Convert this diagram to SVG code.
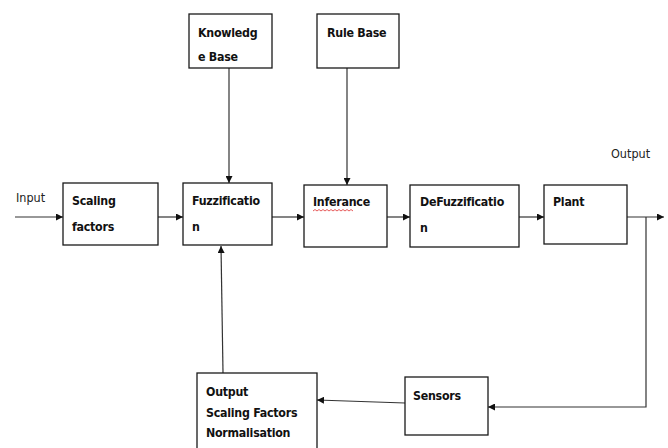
<svg xmlns="http://www.w3.org/2000/svg" width="668" height="448" viewBox="0 0 668 448">
<style>
.box{fill:#fff;stroke:#1a1a1a;stroke-width:1.3}
.lbl{font-family:"DejaVu Sans Condensed","DejaVu Sans",sans-serif;font-weight:bold;font-size:12.3px;letter-spacing:-0.25px;fill:#111}
.plain{font-family:"DejaVu Sans Condensed","DejaVu Sans",sans-serif;font-size:12.5px;fill:#222}
.conn{stroke:#333;stroke-width:1.2;fill:none;marker-end:url(#ah)}
</style>
<defs>
<marker id="ah" viewBox="0 0 10 10" refX="10" refY="5" markerWidth="7" markerHeight="7" markerUnits="userSpaceOnUse" orient="auto">
<path d="M0,0 L10,5 L0,10 z" fill="#111"/>
</marker>
</defs>
<rect width="668" height="448" fill="#fff"/>
<g id="connectors">
<path class="conn" d="M15,217 H63"/>
<path class="conn" d="M158,217 H183"/>
<path class="conn" d="M272,217 H304"/>
<path class="conn" d="M387,217 H410"/>
<path class="conn" d="M519,217 H544"/>
<path class="conn" d="M627,217 H664"/>
<path class="conn" d="M229,68 V183"/>
<path class="conn" d="M347,68 V185"/>
<path class="conn" d="M646,217 V407 H488"/>
<path class="conn" d="M405,403 L317,400"/>
<path class="conn" d="M223,373 L221,246"/>
</g>
<g id="knowledge-base">
<rect class="box" x="189" y="14" width="83" height="54"/>
<text class="lbl" x="198" y="37">Knowledg</text>
<text class="lbl" x="198" y="61">e Base</text>
</g>
<g id="rule-base">
<rect class="box" x="317" y="14" width="82" height="54"/>
<text class="lbl" x="327" y="37">Rule Base</text>
</g>
<g id="input-label">
<text class="plain" x="16" y="202">Input</text>
</g>
<g id="scaling-factors">
<rect class="box" x="63" y="183" width="95" height="62"/>
<text class="lbl" x="72" y="205">Scaling</text>
<text class="lbl" x="72" y="231">factors</text>
</g>
<g id="fuzzification">
<rect class="box" x="183" y="183" width="89" height="62"/>
<text class="lbl" x="192" y="205">Fuzzificatio</text>
<text class="lbl" x="192" y="231">n</text>
</g>
<g id="inferance">
<rect class="box" x="304" y="185" width="83" height="62"/>
<text class="lbl" x="313" y="206">Inferance</text>
<path d="M313,211 l2,-1.5 l2,1.5 l2,-1.5 l2,1.5 l2,-1.5 l2,1.5 l2,-1.5 l2,1.5 l2,-1.5 l2,1.5 l2,-1.5 l2,1.5 l2,-1.5 l2,1.5 l2,-1.5 l2,1.5 l2,-1.5 l2,1.5 l2,-1.5 l2,1.5" fill="none" stroke="#e03030" stroke-width="0.8"/>
</g>
<g id="defuzzification">
<rect class="box" x="410" y="185" width="109" height="62"/>
<text class="lbl" x="420" y="206">DeFuzzificatio</text>
<text class="lbl" x="420" y="232">n</text>
</g>
<g id="plant">
<rect class="box" x="544" y="185" width="83" height="59"/>
<text class="lbl" x="553" y="206">Plant</text>
</g>
<g id="output-label">
<text class="plain" x="611" y="158">Output</text>
</g>
<g id="sensors">
<rect class="box" x="405" y="377" width="83" height="58"/>
<text class="lbl" x="413" y="400">Sensors</text>
</g>
<g id="output-scaling">
<rect class="box" x="197" y="373" width="120" height="80"/>
<text class="lbl" x="206" y="396">Output</text>
<text class="lbl" x="206" y="417">Scaling Factors</text>
<text class="lbl" x="206" y="437">Normalisation</text>
</g>
</svg>
